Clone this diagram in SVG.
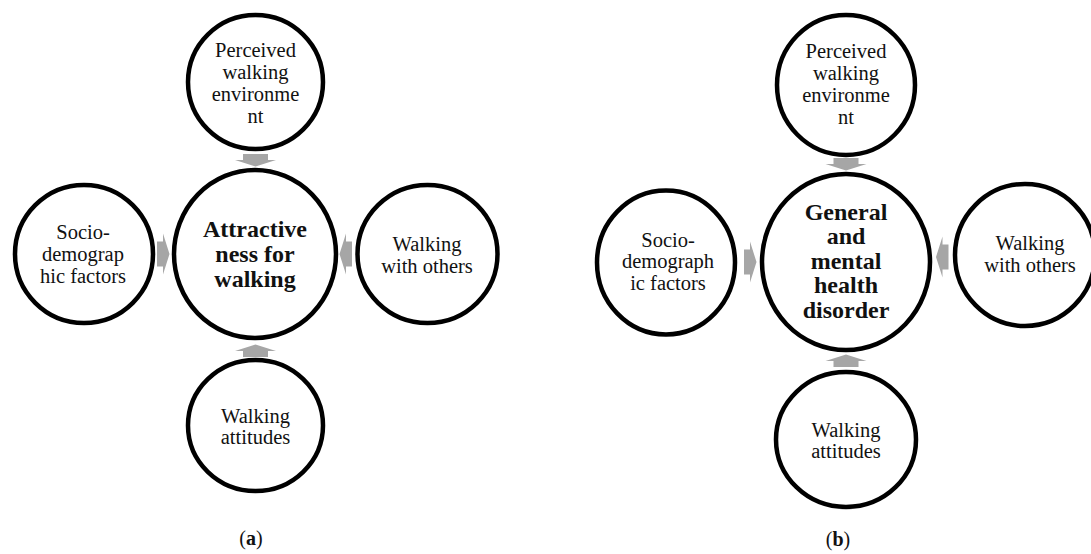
<svg xmlns="http://www.w3.org/2000/svg" width="1091" height="554" viewBox="0 0 1091 554">
<style>
.c{fill:#fff;stroke:#000;stroke-width:4.5}
.t{font-family:'Liberation Serif','DejaVu Serif',serif;font-size:20.5px;fill:#111;text-anchor:middle}
.b{font-family:'Liberation Serif','DejaVu Serif',serif;font-size:24px;font-weight:bold;fill:#111;text-anchor:middle}
.a{fill:#a6a6a6}
.l{font-family:'Liberation Serif','DejaVu Serif',serif;font-size:20px;fill:#111;text-anchor:middle}
</style>
<defs>
<path id="arr" d="M-12.5,-6 H12.5 V0 H20.5 L0,6.5 L-20.5,0 H-12.5 Z"/>
</defs>
<g id="connectors">
<use href="#arr" class="a" transform="translate(255.5,160)"/>
<use href="#arr" class="a" transform="translate(255.5,351) rotate(180)"/>
<use href="#arr" class="a" transform="translate(163,254) rotate(-90)"/>
<use href="#arr" class="a" transform="translate(346,254) rotate(90)"/>
<use href="#arr" class="a" transform="translate(846,164)"/>
<use href="#arr" class="a" transform="translate(846,361) rotate(180)"/>
<use href="#arr" class="a" transform="translate(750,262) rotate(-90)"/>
<use href="#arr" class="a" transform="translate(942.5,257) rotate(90)"/>
</g>
<g id="a-top"><ellipse class="c" cx="255.5" cy="82" rx="67.5" ry="67"/>
<text class="t" x="255.5" y="57">Perceived</text><text class="t" x="255.5" y="79">walking</text><text class="t" x="255.5" y="101">environme</text><text class="t" x="255.5" y="123">nt</text></g>
<g id="a-center"><ellipse class="c" cx="255" cy="254" rx="81" ry="84"/>
<text class="b" x="255" y="237">Attractive</text><text class="b" x="255" y="262">ness for</text><text class="b" x="255" y="287">walking</text></g>
<g id="a-left"><ellipse class="c" cx="84" cy="254" rx="69" ry="69"/>
<text class="t" x="83" y="239">Socio-</text><text class="t" x="83" y="261">demograp</text><text class="t" x="83" y="283">hic factors</text></g>
<g id="a-right"><ellipse class="c" cx="427.5" cy="254" rx="70" ry="69"/>
<text class="t" x="427" y="251">Walking</text><text class="t" x="427" y="273">with others</text></g>
<g id="a-bottom"><ellipse class="c" cx="255.5" cy="425.5" rx="67.5" ry="65.5"/>
<text class="t" x="255.5" y="423">Walking</text><text class="t" x="255.5" y="444">attitudes</text></g>
<g id="b-top"><ellipse class="c" cx="846" cy="85" rx="69" ry="70"/>
<text class="t" x="846" y="58">Perceived</text><text class="t" x="846" y="80">walking</text><text class="t" x="846" y="102">environme</text><text class="t" x="846" y="124">nt</text></g>
<g id="b-center"><ellipse class="c" cx="846" cy="262" rx="84" ry="88"/>
<text class="b" x="846" y="220">General</text><text class="b" x="846" y="244">and</text><text class="b" x="846" y="269">mental</text><text class="b" x="846" y="293">health</text><text class="b" x="846" y="318">disorder</text></g>
<g id="b-left"><ellipse class="c" cx="666" cy="262.5" rx="69" ry="72"/>
<text class="t" x="668" y="247">Socio-</text><text class="t" x="668" y="268">demograph</text><text class="t" x="668" y="290">ic factors</text></g>
<g id="b-right"><ellipse class="c" cx="1025" cy="255" rx="70" ry="71"/>
<text class="t" x="1030" y="250">Walking</text><text class="t" x="1030" y="272">with others</text></g>
<g id="b-bottom"><ellipse class="c" cx="846" cy="439.5" rx="70" ry="67.5"/>
<text class="t" x="846" y="437">Walking</text><text class="t" x="846" y="458">attitudes</text></g>
<g id="labels">
<text class="l" x="251" y="545">(<tspan font-weight="bold">a</tspan>)</text>
<text class="l" x="838" y="546">(<tspan font-weight="bold">b</tspan>)</text>
</g>
</svg>
